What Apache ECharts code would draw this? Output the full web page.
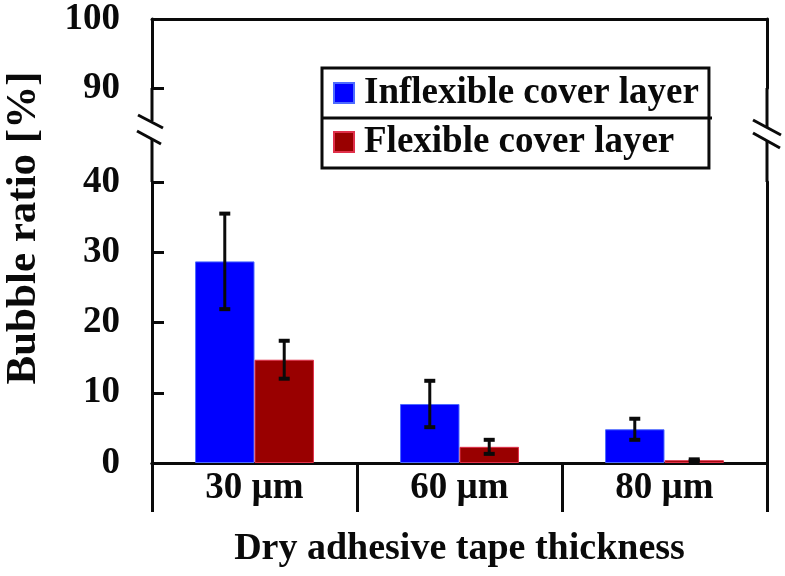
<!DOCTYPE html>
<html><head><meta charset="utf-8">
<script src="https://cdn.jsdelivr.net/npm/echarts@6/dist/echarts.min.js"></script>
<style>html,body{margin:0;padding:0;background:#fff}#c{width:785px;height:576px}</style>
</head><body><div id="c"></div>
<script>
// ---- data ----
const categories = ['30 µm', '60 µm', '80 µm'];
const seriesNames = ['Inflexible cover layer', 'Flexible cover layer'];
const inflexible = [28.7, 8.4, 4.8];
const inflexibleErr = [6.8, 3.3, 1.5];
const flexible = [14.7, 2.3, 0.4];
const flexibleErr = [2.7, 1.0, 0.12];
const upperRange = [90, 100];   // upper segment of broken y axis
const lowerRange = [0, 40];     // lower segment of broken y axis
const yStep = 10;
const xTitle = 'Dry adhesive tape thickness';
const yTitle = 'Bubble ratio [%]';

// ---- style ----
const FONT = 'Liberation Serif';
const INK = '#0a0a0a';
const BLUE = '#0000ff';
const RED = '#990000';
const BAR_FRAC = 0.29;
const LW = 3;

const chart = echarts.init(document.getElementById('c'), null, {renderer: 'canvas'});

function errData(vals, errs) { return vals.map((v, i) => [i, v, errs[i]]); }
function errSeries(name, vals, errs, side) {
  return {
    type: 'custom', name: name + ' err', xAxisIndex: 1, yAxisIndex: 2, z: 10,
    silent: true, legendHoverLink: false,
    data: errData(vals, errs),
    renderItem: function (params, api) {
      const xi = api.value(0), v = api.value(1), e = api.value(2);
      const c = api.coord([xi, v]);
      const band = api.size([1, 0])[0];
      const x = c[0] + side * band * BAR_FRAC / 2;
      const top = api.coord([xi, v + e])[1];
      const bot = api.coord([xi, v - e])[1];
      const cap = 5.5;
      const st = {stroke: INK, lineWidth: 3};
      return {type: 'group', children: [
        {type: 'line', shape: {x1: x, y1: top, x2: x, y2: bot}, style: st},
        {type: 'line', shape: {x1: x - cap, y1: top, x2: x + cap, y2: top}, style: {stroke: INK, lineWidth: 4}},
        {type: 'line', shape: {x1: x - cap, y1: bot, x2: x + cap, y2: bot}, style: {stroke: INK, lineWidth: 4}}
      ]};
    }
  };
}

const labelStyle = {fontFamily: FONT, fontWeight: 'bold', fontSize: 37, color: INK};
const lineStyle = {color: INK, width: LW};

const L = 152, R = 767, TOP = 19, UB = 88, LT = 182, ZERO = 463;

const option = {
  animation: false,
  backgroundColor: '#fff',
  grid: [
    {left: L, right: 785 - R, top: TOP, height: UB - TOP},
    {left: L, right: 785 - R, top: LT, height: ZERO - LT}
  ],
  xAxis: [
    {type: 'category', gridIndex: 0, data: categories, position: 'top',
     axisLine: {show: true, lineStyle: lineStyle}, axisTick: {show: false}, axisLabel: {show: false}, splitLine: {show: false}},
    {type: 'category', gridIndex: 1, data: categories, position: 'bottom',
     axisLine: {show: true, lineStyle: lineStyle},
     axisTick: {show: true, length: 49, inside: false, lineStyle: lineStyle},
     axisLabel: Object.assign({margin: 7}, labelStyle),
     name: xTitle, nameLocation: 'middle', nameGap: 67,
     nameTextStyle: {fontFamily: FONT, fontWeight: 'bold', fontSize: 38, color: INK},
     splitLine: {show: false}},
    {type: 'category', gridIndex: 1, data: categories, position: 'bottom', offset: 49,
     axisLine: {show: true, lineStyle: lineStyle}, axisTick: {show: false}, axisLabel: {show: false}}
  ],
  yAxis: [
    {type: 'value', gridIndex: 0, min: upperRange[0], max: upperRange[1], interval: yStep, position: 'left',
     axisLine: {show: true, lineStyle: lineStyle},
     axisTick: {show: true, inside: true, length: 12, lineStyle: lineStyle},
     axisLabel: Object.assign({margin: 32}, labelStyle), splitLine: {show: false}},
    {type: 'value', gridIndex: 0, min: upperRange[0], max: upperRange[1], interval: yStep, position: 'right',
     axisLine: {show: true, lineStyle: lineStyle}, axisTick: {show: false}, axisLabel: {show: false}, splitLine: {show: false}},
    {type: 'value', gridIndex: 1, min: lowerRange[0], max: lowerRange[1], interval: yStep, position: 'left',
     axisLine: {show: true, lineStyle: lineStyle},
     axisTick: {show: true, inside: true, length: 12, lineStyle: lineStyle},
     axisLabel: Object.assign({margin: 32}, labelStyle), splitLine: {show: false}},
    {type: 'value', gridIndex: 1, min: lowerRange[0], max: lowerRange[1], interval: yStep, position: 'right',
     axisLine: {show: true, lineStyle: lineStyle}, axisTick: {show: false}, axisLabel: {show: false}, splitLine: {show: false}}
  ],
  legend: {
    data: seriesNames,
    orient: 'vertical', left: 322, top: 68,
    padding: [5, 10, 6, 11],
    itemGap: 9, itemWidth: 20, itemHeight: 20,
    borderColor: INK, borderWidth: LW,
    selectedMode: false,
    icon: 'rect',
    textStyle: {fontFamily: FONT, fontWeight: 'bold', fontSize: 37, color: INK, lineHeight: 40, padding: [0, 0, 0, 5]}
  },
  series: [
    {name: seriesNames[0], type: 'bar', xAxisIndex: 1, yAxisIndex: 2, data: inflexible,
     barWidth: (BAR_FRAC * 100) + '%', barGap: '0%',
     itemStyle: {color: BLUE, borderColor: '#4d6bff', borderWidth: 1}},
    {name: seriesNames[1], type: 'bar', xAxisIndex: 1, yAxisIndex: 2, data: flexible,
     barWidth: (BAR_FRAC * 100) + '%', barGap: '0%',
     itemStyle: {color: RED, borderColor: '#e0304a', borderWidth: 1}},
    errSeries(seriesNames[0], inflexible, inflexibleErr, -1),
    errSeries(seriesNames[1], flexible, flexibleErr, 1)
  ],
  graphic: [
    // frame between the two segments with break marks
    {type: 'line', shape: {x1: L, y1: UB, x2: L, y2: 121}, style: {stroke: INK, lineWidth: LW}},
    {type: 'line', shape: {x1: L, y1: 139, x2: L, y2: LT}, style: {stroke: INK, lineWidth: LW}},
    {type: 'line', shape: {x1: 138, y1: 115, x2: 163, y2: 128}, style: {stroke: INK, lineWidth: LW}},
    {type: 'line', shape: {x1: 137, y1: 131, x2: 161, y2: 144}, style: {stroke: INK, lineWidth: LW}},
    {type: 'line', shape: {x1: R, y1: UB, x2: R, y2: 127}, style: {stroke: INK, lineWidth: LW}},
    {type: 'line', shape: {x1: R, y1: 141, x2: R, y2: LT}, style: {stroke: INK, lineWidth: LW}},
    {type: 'line', shape: {x1: 753, y1: 120, x2: 781, y2: 135}, style: {stroke: INK, lineWidth: LW}},
    {type: 'line', shape: {x1: 753, y1: 133, x2: 780, y2: 148}, style: {stroke: INK, lineWidth: LW}},
    // legend row divider
    {type: 'line', z: 100, shape: {x1: 322, y1: 118, x2: 712, y2: 118}, style: {stroke: INK, lineWidth: LW}},
    // y-axis title spanning both segments
    {type: 'text', x: 24, y: 228, rotation: Math.PI / 2,
     style: {text: yTitle, fontFamily: FONT, fontWeight: 'bold', fontSize: 43, fill: INK, align: 'center', verticalAlign: 'middle'}}
  ]
};
chart.setOption(option);
</script>
</body></html>
